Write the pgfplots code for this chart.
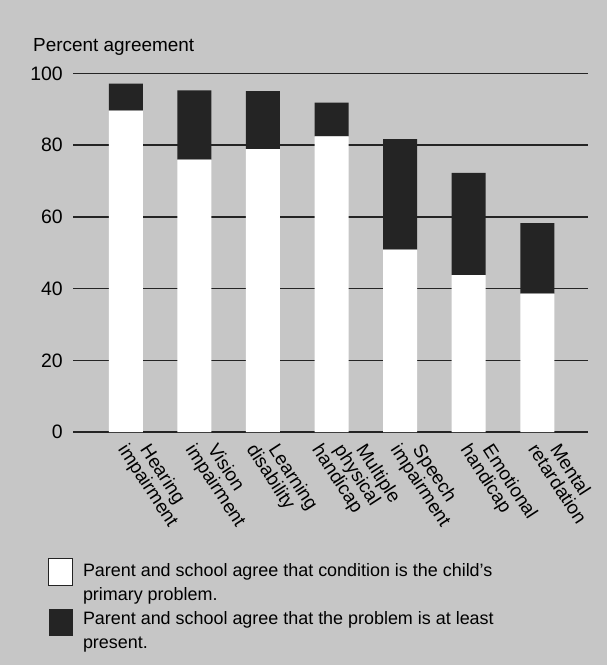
\documentclass[border=0pt]{standalone}
\usepackage{pgfplots}
\pgfplotsset{compat=1.18}
\usepackage{fontspec}
\setmainfont{Liberation Sans}
\definecolor{bg}{RGB}{198,198,198}
\definecolor{dark}{RGB}{36,36,36}
\newcommand{\ia}{\hspace*{12bp}}
\newcommand{\ib}{\hspace*{24bp}}
\begin{document}
\begin{tikzpicture}[x=1bp,y=1bp]
\fill[bg] (0,0) rectangle (607,-665);
\node[anchor=base west, inner sep=0pt, font=\fontsize{19}{22}\selectfont] at (33,-52) {Percent agreement};
\begin{axis}[
  at={(73bp,-432bp)}, anchor=south west,
  scale only axis, width=515bp, height=358.4bp,
  xmin=-0.77, xmax=6.74, ymin=0, ymax=100,
  enlargelimits=false,
  axis line style={draw=none}, major tick length=0pt, tick style={draw=none},
  ymajorgrids, grid style={line width=1.6bp, color=dark},
  ytick={0,20,40,60,80,100},
  /pgf/number format/assume math mode=true,
  yticklabel style={font=\fontsize{19.5}{22}\selectfont, anchor=east, inner sep=0pt, xshift=-10bp},
  xtick={-0.280,0.704,1.594,2.549,3.694,4.714,5.698},
  xticklabels={{\ia Hearing\\impairment},{\ia Vision\\impairment},{\ia Learning\\disability},{\ib Multiple\\\ia physical\\handicap},{\ia Speech\\impairment},{\ia Emotional\\handicap},{\ia Mental\\retardation}},
  xticklabel style={font=\fontsize{19}{18.5}\selectfont, align=left, inner sep=0pt, xshift=11bp, yshift=-17.4bp, rotate=-57, anchor=base west},
  ybar stacked, bar width=34bp,
  legend style={at={(-0.04854,-0.35156)}, anchor=north west, draw=none, fill=none,
    inner sep=0pt, outer sep=0pt, row sep=6.7bp, column sep=10bp,
    font=\fontsize{18}{23}\selectfont,
    nodes={inner sep=0pt, align=left},
    cells={anchor=north west}},
]
\addplot[fill=white, draw=none,
  legend image code/.code={\filldraw[fill=white, draw=dark, line width=1bp] (0bp,-22bp) rectangle (24bp,5bp);}]
  coordinates {(0,89.7) (1,76.0) (2,78.9) (3,82.5) (4,50.9) (5,43.8) (6,38.6)};
\addlegendentry{Parent and school agree that condition is the child's\\[1.5bp]primary problem.}
\addplot[fill=dark, draw=none,
  legend image code/.code={\fill[dark] (0bp,-25bp) rectangle (24bp,2bp);}]
  coordinates {(0,7.5) (1,19.3) (2,16.2) (3,9.4) (4,30.8) (5,28.5) (6,19.7)};
\addlegendentry{Parent and school agree that the problem is at least\\[1.5bp]present.}
\end{axis}
\pgfresetboundingbox
\path[use as bounding box] (0,0) rectangle (607,-665);
\end{tikzpicture}
\end{document}
